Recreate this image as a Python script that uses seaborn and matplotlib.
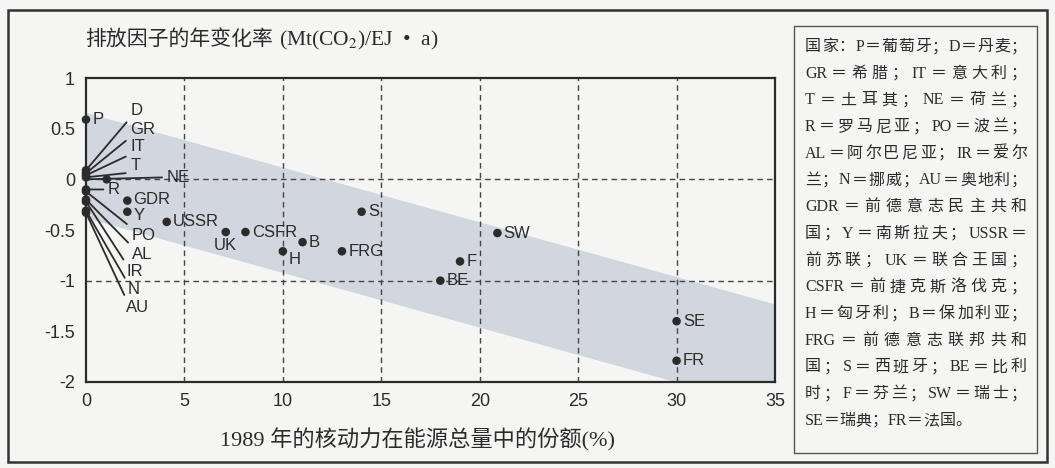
import re
import pandas as pd
import seaborn as sns
import matplotlib.pyplot as plt
from matplotlib.patches import Rectangle

# country codes, 1989 nuclear share (%) and yearly change of emission factor
codes = ["P", "D", "GR", "IT", "T", "NE", "R", "PO", "AL", "IR", "N", "AU",
         "GDR", "Y", "USSR", "UK", "CSFR", "H", "B", "FRG", "S", "F", "BE",
         "SW", "SE", "FR"]
nuclear_share = [0, 0, 0, 0, 0, 1.05, 0, 0, 0, 0, 0, 0,
                 2.1, 2.1, 4.1, 7.1, 8.1, 10.0, 11.0, 13.0, 14.0, 19.0, 18.0,
                 20.9, 30.0, 30.0]
change_rate = [0.59, 0.09, 0.06, 0.04, 0.02, 0.0, -0.1, -0.12, -0.2, -0.22, -0.31, -0.33,
               -0.21, -0.32, -0.42, -0.52, -0.52, -0.71, -0.62, -0.71, -0.32, -0.81, -1.0,
               -0.53, -1.40, -1.79]

# shaded band (edges at x=0 and x=35)
band_x = [0, 35]
band_upper = [0.66, -1.23]
band_lower = [-0.38, -2.27]

x_ticks = [0, 5, 10, 15, 20, 25, 30, 35]
y_ticks = [1, 0.5, 0, -0.5, -1, -1.5, -2]
y_tick_labels = ["1", "0.5", "0", "-0.5", "-1", "-1.5", "-2"]

title_cn = "排放因子的年变化率"
title_unit = "(Mt(CO$_2$)/EJ  •  a)"
xlabel = "1989 年的核动力在能源总量中的份额(%)"
legend_lines = [
    "国家：P＝葡萄牙；D＝丹麦；",
    "GR＝希腊；IT＝意大利；",
    "T＝土耳其；NE＝荷兰；",
    "R＝罗马尼亚；PO＝波兰；",
    "AL＝阿尔巴尼亚；IR＝爱尔",
    "兰；N＝挪威；AU＝奥地利；",
    "GDR＝前德意志民主共和",
    "国；Y＝南斯拉夫；USSR＝",
    "前苏联；UK＝联合王国；",
    "CSFR＝前捷克斯洛伐克；",
    "H＝匈牙利；B＝保加利亚；",
    "FRG＝前德意志联邦共和",
    "国；S＝西班牙；BE＝比利",
    "时；F＝芬兰；SW＝瑞士；",
    "SE＝瑞典；FR＝法国。",
]

# label placement: fan labels near x=0 use leader lines (data coords)
fan_labels = {"D": (2.25, 0.68), "GR": (2.25, 0.49), "IT": (2.25, 0.32), "T": (2.25, 0.14),
              "NE": (4.1, 0.02), "R": (1.12, -0.1), "PO": (2.3, -0.55), "AL": (2.35, -0.74),
              "IR": (2.05, -0.91), "N": (2.1, -1.09), "AU": (2.05, -1.26)}
# other labels: offset in points from the dot
offsets = {"UK": (0, -10, "center"), "H": (4, -6, "left"), "Y": (4.5, -3, "left"),
           "GDR": (4.5, 1, "left")}

sns.set_style("white")
plt.rcParams["font.family"] = ["Liberation Sans", "Noto Sans CJK SC"]
plt.rcParams["mathtext.fontset"] = "stix"
serif_cjk = ["Liberation Serif", "Noto Sans CJK SC"]
ink = "#2b2b2b"
bg = "#f5f6f4"

W, H = 1055, 468
fig = plt.figure(figsize=(10.55, 4.68), dpi=100, facecolor=bg)
ax = fig.add_axes([86 / W, 1 - 382 / H, (775 - 86) / W, (382 - 78) / H])
ax.set_facecolor(bg)

ax.fill_between(band_x, band_lower, band_upper, color="#d2d6df", lw=0, zorder=1)
for xv in x_ticks[1:-1]:
    ax.axvline(xv, color="#444444", lw=1, ls=(0, (4, 3)), zorder=2)
for yv in [0, -1]:
    ax.axhline(yv, color="#444444", lw=1, ls=(0, (4, 3)), zorder=2)

df = pd.DataFrame({"code": codes, "share": nuclear_share, "rate": change_rate})
sns.scatterplot(data=df, x="share", y="rate", ax=ax, color=ink, s=38,
                edgecolor="none", zorder=5, legend=False, clip_on=False)

for c, xv, yv in zip(codes, nuclear_share, change_rate):
    if c in fan_labels:
        lx, ly = fan_labels[c]
        rel = (0, 0.5) if c in ("NE", "R") else ((0, 0) if ly > 0 else (0, 1))
        ax.annotate(c, xy=(0 if c == "NE" else xv, yv), xytext=(lx, ly), textcoords="data",
                    ha="left", va="center", fontsize=12, color=ink, zorder=6,
                    arrowprops=dict(arrowstyle="-", lw=1.3, color=ink, shrinkA=1, shrinkB=0,
                                    relpos=rel))
    else:
        dx, dy, ha = offsets.get(c, (4.5, 0, "left"))
        ax.annotate(c, xy=(xv, yv), xytext=(dx, dy), textcoords="offset points",
                    ha=ha, va="center", fontsize=12, color=ink, zorder=6)

ax.set_xlim(0, 35)
ax.set_ylim(-2, 1)
ax.set_xticks(x_ticks)
ax.set_xticklabels([str(v) for v in x_ticks])
ax.set_yticks(y_ticks)
ax.set_yticklabels(y_tick_labels)
ax.tick_params(direction="in", length=4, width=1, labelsize=13, pad=8,
               colors=ink, labelcolor=ink)
ax.set_xlabel("")
ax.set_ylabel("")
for s in ax.spines.values():
    s.set_color(ink)
    s.set_linewidth(1.6)

renderer = fig.canvas.get_renderer()

# title: chinese part, then unit with subscript
t1 = fig.text(85 / W, 1 - 40 / H, title_cn, ha="left", va="center", fontsize=15,
              family=serif_cjk, color=ink)
w1 = t1.get_window_extent(renderer).width
fig.text((85 + w1 + 6) / W, 1 - 40 / H, title_unit, ha="left", va="center", fontsize=15.5,
         family=serif_cjk, color=ink)
fig.text(417 / W, 1 - 440 / H, xlabel, ha="center", va="center", fontsize=16,
         family=serif_cjk, color=ink)

# frames
fig.add_artist(Rectangle((8 / W, 1 - 462 / H), (1047 - 8) / W, (462 - 10) / H,
                         transform=fig.transFigure, fill=False, lw=1.8, ec="#333333"))
fig.add_artist(Rectangle((794 / W, 1 - 453 / H), (1037 - 794) / W, (453 - 26) / H,
                         transform=fig.transFigure, fill=False, lw=1.0, ec="#555555"))

# legend text, justified between left and right margins
left, right = 805, 1027
for i, line in enumerate(legend_lines):
    yc = 1 - (47 + i * 26.7) / H
    tokens = re.findall(r"[A-Za-z]+|.", line)
    texts = [fig.text(0, yc, t, ha="left", va="center", fontsize=11.5,
                      family=serif_cjk, color=ink) for t in tokens]
    widths = [t.get_window_extent(renderer).width for t in texts]
    gap = 0
    if i < len(legend_lines) - 1 and len(tokens) > 1:
        gap = max(0, (right - left - sum(widths)) / (len(tokens) - 1))
    xpos = left
    for t, w in zip(texts, widths):
        t.set_x(xpos / W)
        xpos += w + gap

fig.savefig("out.png", dpi=100, facecolor=bg)
